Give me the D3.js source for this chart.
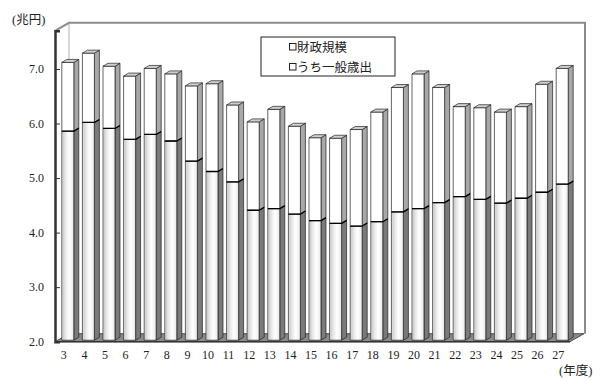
<!DOCTYPE html>
<html>
<head>
<meta charset="utf-8">
<script src="https://cdn.jsdelivr.net/npm/d3@7"></script>
<style>
  body { margin: 0; background: #fff; }
  text { font-family: "Liberation Serif", "Noto Sans CJK JP", serif; fill: #222; }
</style>
</head>
<body>
<div id="chart"></div>
<script>
// 年度 (平成)
const years = [3, 4, 5, 6, 7, 8, 9, 10, 11, 12, 13, 14, 15, 16, 17, 18, 19, 20, 21, 22, 23, 24, 25, 26, 27];
// 財政規模 (兆円)
const totalScale = [7.12, 7.29, 7.05, 6.87, 7.01, 6.91, 6.69, 6.73, 6.34, 6.03, 6.26, 5.95, 5.74, 5.73, 5.89,
                    6.21, 6.66, 6.91, 6.66, 6.31, 6.29, 6.21, 6.31, 6.72, 7.01];
// うち一般歳出 (兆円)
const generalExp = [5.86, 6.02, 5.91, 5.71, 5.80, 5.68, 5.31, 5.12, 4.93, 4.41, 4.44, 4.34, 4.22, 4.17, 4.12,
                    4.20, 4.38, 4.44, 4.55, 4.66, 4.61, 4.54, 4.63, 4.74, 4.89];
const yTicks = [2, 3, 4, 5, 6, 7];
const legendLabels = ["財政規模", "うち一般歳出"];

const width = 600, height = 382;
const plot = {left: 55, right: 570};
const depth = {dx: 14, dy: -8};   // wall depth
const bar = {w: 12, dx: 5, dy: -3}; // bar front width & side depth

const svg = d3.select("#chart").append("svg")
  .attr("width", width)
  .attr("height", height);

const defs = svg.append("defs");
const grad = defs.append("linearGradient").attr("id", "lowFront")
  .attr("x1", "0%").attr("x2", "100%").attr("y1", "0%").attr("y2", "0%");
[["0%", "#f4f4f4"], ["12%", "#d0d0d0"], ["30%", "#e8e8e8"], ["60%", "#ffffff"], ["88%", "#f0f0f0"], ["100%", "#d4d4d4"]]
  .forEach(s => grad.append("stop").attr("offset", s[0]).attr("stop-color", s[1]));

const yScale = d3.scaleLinear().domain([2, 7.7]).range([341.7, 30.8]);
const xScale = d3.scaleBand().domain(years).range([plot.left, plot.right]);

const y0 = yScale(2), yTop = yScale(7.7);

// back wall
svg.append("rect")
  .attr("x", plot.left + depth.dx).attr("y", yTop + depth.dy)
  .attr("width", plot.right - plot.left + 1).attr("height", y0 - yTop)
  .attr("fill", "#fff");
svg.append("path")
  .attr("d", `M${plot.left + depth.dx},${y0 + depth.dy} V${yTop + depth.dy}`)
  .attr("stroke", "#b0b0b0").attr("stroke-width", 1).attr("fill", "none");
svg.append("path")
  .attr("d", `M${plot.left},${yTop} L${plot.left + depth.dx},${yTop + depth.dy} H${plot.right + depth.dx + 1} V${y0 + depth.dy}`)
  .attr("stroke", "#8c8c8c").attr("stroke-width", 2).attr("fill", "none");

// floor
svg.append("path")
  .attr("d", `M${plot.left},${y0} H${plot.right} L${plot.right + depth.dx},${y0 + depth.dy} H${plot.left + depth.dx} Z`)
  .attr("fill", "#8a8a8a").attr("stroke", "#333").attr("stroke-width", 0.8);

// bars
const bars = svg.append("g");
years.forEach((yr, i) => {
  const x = xScale(yr) + xScale.bandwidth() / 2 - 3.5;
  const yb = y0 - 1.5;
  const yg = yScale(generalExp[i]);
  const yt = yScale(totalScale[i]);
  const g = bars.append("g").attr("stroke", "#222").attr("stroke-width", 0.7).attr("stroke-linejoin", "round");

  // lower side & front
  g.append("path")
    .attr("d", `M${x + bar.w},${yb} V${yg} l${bar.dx},${bar.dy} V${yb + bar.dy} Z`)
    .attr("fill", "#7a7a7a");
  g.append("rect")
    .attr("x", x).attr("y", yg).attr("width", bar.w).attr("height", yb - yg)
    .attr("fill", "url(#lowFront)");
  // upper side & front
  g.append("path")
    .attr("d", `M${x + bar.w},${yg} V${yt} l${bar.dx},${bar.dy} V${yg + bar.dy} Z`)
    .attr("fill", "#a8a8a8");
  g.append("rect")
    .attr("x", x).attr("y", yt).attr("width", bar.w).attr("height", yg - yt)
    .attr("fill", "#fff");
  // top face
  g.append("path")
    .attr("d", `M${x},${yt} l${bar.dx},${bar.dy} h${bar.w} l${-bar.dx},${-bar.dy} Z`)
    .attr("fill", "#cfcfcf");
  // segment boundary
  g.append("path")
    .attr("d", `M${x},${yg} h${bar.w} l${bar.dx},${bar.dy}`)
    .attr("fill", "none").attr("stroke", "#000").attr("stroke-width", 1.3);
});

// front floor edge
svg.append("line")
  .attr("x1", plot.left).attr("x2", plot.right)
  .attr("y1", y0).attr("y2", y0)
  .attr("stroke", "#333").attr("stroke-width", 1.5);

// y axis
const yAxis = svg.append("g")
  .attr("transform", `translate(${plot.left},0)`)
  .call(d3.axisLeft(yScale).tickValues(yTicks).tickFormat(d3.format(".1f")).tickSize(-5).tickPadding(11));
yAxis.select(".domain").attr("stroke", "#333").attr("stroke-width", 2.5);
yAxis.selectAll(".tick line").attr("stroke", "#333");
yAxis.selectAll("text")
  .style("font-family", "'Liberation Serif', serif")
  .style("font-size", "12px").attr("fill", "#222");

// x labels
svg.append("g").selectAll("text")
  .data(years)
  .join("text")
    .attr("x", d => xScale(d) + xScale.bandwidth() / 2 - 1.5)
    .attr("y", 359)
    .attr("text-anchor", "middle")
    .style("font-size", "12px")
    .text(d => d);

// unit labels
svg.append("text").attr("x", 12).attr("y", 24).style("font-size", "12.5px").text("(兆円)");
svg.append("text").attr("x", 559).attr("y", 375).style("font-size", "12.5px").text("(年度)");

// legend
const legend = svg.append("g");
legend.append("rect")
  .attr("x", 261).attr("y", 37).attr("width", 134).attr("height", 39)
  .attr("fill", "#fff").attr("stroke", "#222").attr("stroke-width", 1);
legendLabels.forEach((lab, i) => {
  const ly = 47 + i * 20;
  legend.append("rect")
    .attr("x", 289.5).attr("y", ly - 3.5).attr("width", 6.5).attr("height", 6.5)
    .attr("fill", "#fff").attr("stroke", "#222").attr("stroke-width", 1);
  legend.append("text")
    .attr("x", 297).attr("y", ly + 4.5)
    .style("font-size", "12.5px")
    .attr("fill", "#333")
    .text(lab);
});
</script>
</body>
</html>
